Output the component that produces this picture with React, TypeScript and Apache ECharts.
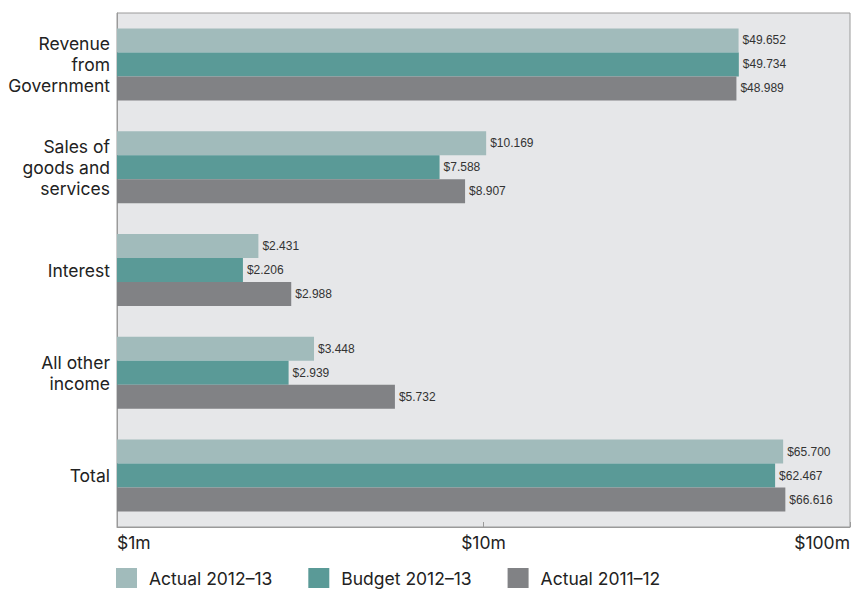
import React, { useEffect, useRef } from "react";
import * as echarts from "echarts";

const categories = ["Revenue\nfrom\nGovernment", "Sales of\ngoods and\nservices", "Interest", "All other\nincome", "Total"];
const seriesNames = ["Actual 2012–13", "Budget 2012–13", "Actual 2011–12"];
const actual1213 = [49.652, 10.169, 2.431, 3.448, 65.7];
const budget1213 = [49.734, 7.588, 2.206, 2.939, 62.467];
const actual1112 = [48.989, 8.907, 2.988, 5.732, 66.616];
const colors = ["#a1bbbb", "#5a9a97", "#818285"];

const FONT = "'Liberation Sans', Arial, sans-serif";
const BIG = "Inter, 'Liberation Sans', sans-serif";

export default function App() {
  const ref = useRef<HTMLDivElement>(null);
  useEffect(() => {
    if (!ref.current) return;
    const chart = echarts.init(ref.current, undefined, { renderer: "svg" });
    const data = [actual1213, budget1213, actual1112];
    chart.setOption({
      animation: false,
      textStyle: { fontFamily: FONT },
      grid: {
        left: 117,
        right: 1,
        top: 13,
        bottom: 62,
        show: true,
        backgroundColor: "#e6e7e9",
        borderColor: "#9a9a9a",
        borderWidth: 1,
      },
      legend: {
        left: 116,
        top: 568,
        padding: 0,
        itemWidth: 21,
        itemHeight: 20,
        itemGap: 36,
        icon: "rect",
        textStyle: { fontSize: 17.5, color: "#222", fontFamily: BIG, padding: [0, 0, 0, 7] },
        data: seriesNames,
      },
      xAxis: {
        type: "log",
        logBase: 10,
        min: 1,
        max: 100,
        axisLine: { show: true, lineStyle: { color: "#9a9a9a", width: 1 } },
        axisTick: { show: true, inside: true, length: 5, lineStyle: { color: "#9a9a9a" } },
        splitLine: { show: false },
        axisLabel: {
          fontSize: 17.5,
          color: "#222",
          fontFamily: BIG,
          margin: 6,
          alignMinLabel: "left",
          alignMaxLabel: "right",
          formatter: (v: number) => "$" + v + "m",
        },
      },
      yAxis: {
        type: "category",
        data: categories,
        inverse: true,
        axisLine: { show: true, lineStyle: { color: "#9a9a9a" } },
        axisTick: { show: false },
        axisLabel: {
          fontSize: 17.5,
          color: "#222",
          fontFamily: BIG,
          margin: 7,
          lineHeight: 21,
          align: "right",
        },
      },
      series: seriesNames.map((name, i) => ({
        name,
        type: "bar",
        data: data[i],
        barGap: "0%",
        barCategoryGap: "30%",
        itemStyle: { color: colors[i] },
        label: {
          show: true,
          position: "right",
          distance: 4,
          fontSize: 12,
          color: "#333",
          fontFamily: FONT,
          formatter: (p: any) => "$" + p.value.toFixed(3),
        },
      })),
    });
    return () => chart.dispose();
  }, []);
  return (
    <div
      ref={ref}
      style={{ position: "absolute", left: 0, top: 0, width: 853, height: 589, background: "#fff" }}
    />
  );
}
